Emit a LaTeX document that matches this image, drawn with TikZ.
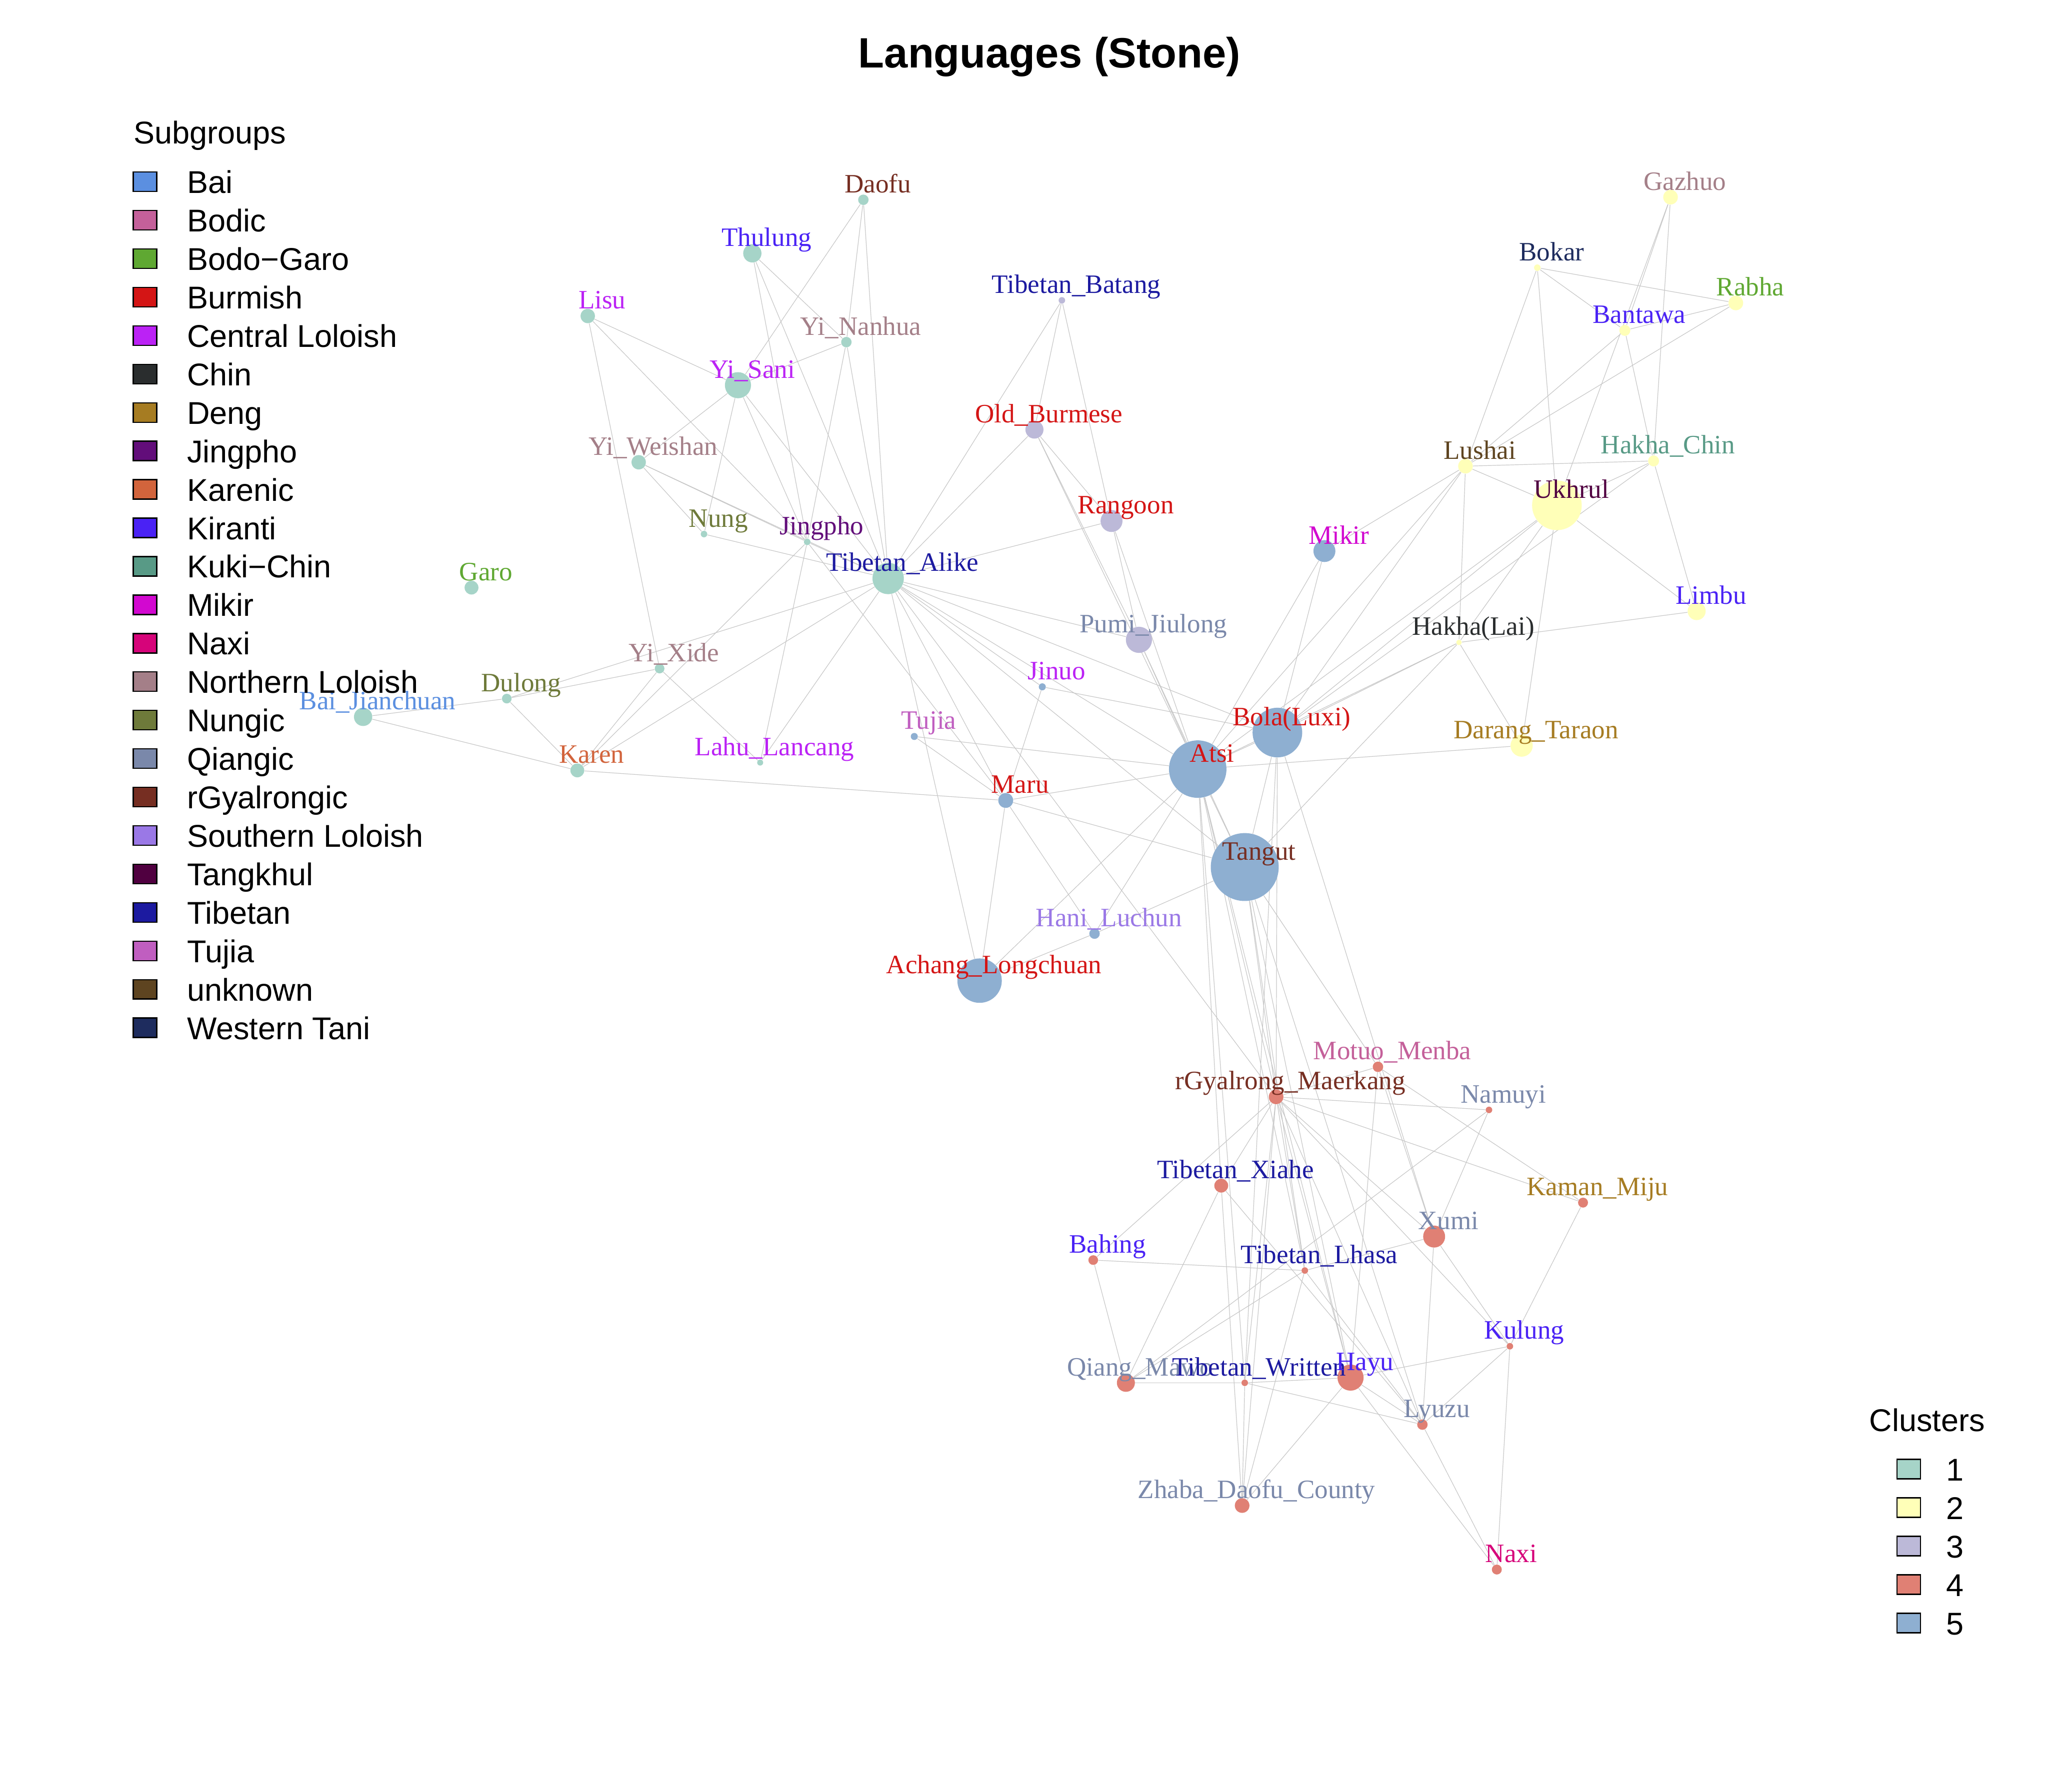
\documentclass[tikz,border=0pt]{standalone}
\usepackage{fontspec}
\setmainfont{Liberation Serif}
\newfontfamily\legfont{Liberation Sans}
\usetikzlibrary{backgrounds}

% cluster fills
\definecolor{cA}{HTML}{A6D4C8}
\definecolor{cB}{HTML}{FFFFB8}
\definecolor{cC}{HTML}{BCB9D8}
\definecolor{cD}{HTML}{E08074}
\definecolor{cE}{HTML}{8EAFD1}
% subgroup colours
\definecolor{sBai}{HTML}{5B8FE0}
\definecolor{sBodic}{HTML}{C4609A}
\definecolor{sBodoGaro}{HTML}{5FA832}
\definecolor{sBurmish}{HTML}{D41515}
\definecolor{sCentral}{HTML}{BB22F5}
\definecolor{sChin}{HTML}{2A2D2E}
\definecolor{sDeng}{HTML}{A67C22}
\definecolor{sJingpho}{HTML}{620D7A}
\definecolor{sKarenic}{HTML}{D2643C}
\definecolor{sKiranti}{HTML}{4A22F5}
\definecolor{sKukiChin}{HTML}{589A86}
\definecolor{sMikir}{HTML}{D208D0}
\definecolor{sNaxi}{HTML}{D6047A}
\definecolor{sNorthern}{HTML}{A47F88}
\definecolor{sNungic}{HTML}{6E7A3A}
\definecolor{sQiangic}{HTML}{7A88AA}
\definecolor{sRgyal}{HTML}{762E22}
\definecolor{sSouthern}{HTML}{9A78E6}
\definecolor{sTangkhul}{HTML}{500040}
\definecolor{sTibetan}{HTML}{1C1AA0}
\definecolor{sTujia}{HTML}{C05EC0}
\definecolor{sUnknown}{HTML}{5E4420}
\definecolor{sWTani}{HTML}{1E2C5E}

\begin{document}
\begin{tikzpicture}[x=0.03061cm,y=-0.03061cm,
  vtx/.style={circle,inner sep=0pt,minimum size=#1*1.742pt},
  lab/.style={font=\fontsize{17.7}{20}\selectfont,anchor=base,inner sep=0pt},
  edge/.style={draw=black!22,line width=0.4pt},
  key/.style={draw=black,line width=0.8pt,minimum width=15.7pt,minimum height=13pt,inner sep=0pt},
  leg/.style={font=\legfont\fontsize{21}{25}\selectfont,anchor=base west,inner sep=0pt}]
  \useasboundingbox (0,0) rectangle (1568,1372);

  \node[font=\legfont\bfseries\fontsize{28.3}{32}\selectfont,anchor=base,inner sep=0pt] (title) at (803.5,52) {Languages (Stone)};

  % vertices
  \foreach \n/\x/\y/\r/\c in {
    daofu/661/153/4/cA, thulung/576/194/7/cA, lisu/450/242/5.5/cA, yinanhua/648/262/4/cA,
    yisani/565/295/10/cA, yiweishan/489/354/5.5/cA, nung/539/409/2.5/cA, jingpho/618/415/2.5/cA,
    tibalike/680/443/12/cA, garo/361/450/5.3/cA, yixide/505/512/3.7/cA, dulong/388/535/3.7/cA,
    baijian/278/549/7/cA, karen/442/590/5.3/cA, lahu/582/584/2.3/cA,
    tujia/700/564/2.7/cE, maru/770/613/5.7/cE, jinuo/798/526/2.7/cE, atsi/917/589/22/cE,
    bola/978/561/19/cE, tangut/953/664/26/cE, mikir/1014/422/8.4/cE, achang/750/751/17/cE,
    hani/838/715/4/cE,
    tibbatang/813/230/2.5/cC, oldburmese/792/329/6.9/cC, rangoon/851/399/8.4/cC, pumi/872/490/10/cC,
    gazhuo/1279/151/5.6/cB, bokar/1177/205/2.5/cB, rabha/1329/232/5.6/cB, bantawa/1244/253/4.2/cB,
    lushai/1122/357/5.6/cB, hakhachin/1266/353/4.2/cB, ukhrul/1192/387/19/cB, limbu/1299/468/6.9/cB,
    hakhalai/1117/492/2.1/cB, darang/1165/571/8.5/cB,
    motuo/1055/817/4/cD, rgyal/977/840/5.6/cD, namuyi/1140/850/2.5/cD, tibxiahe/935/908/5.3/cD,
    kaman/1212/921/3.8/cD, xumi/1098/947/8.4/cD, bahing/837/965/3.7/cD, tiblhasa/999/973/2.5/cD,
    kulung/1156/1031/2.5/cD, qiang/862/1059/6.9/cD, tibwritten/953/1059/2.5/cD, hayu/1034/1055/10/cD,
    lyuzu/1089/1091/4/cD, zhaba/951/1153/5.6/cD, naxi/1146/1202/3.8/cD}
    \node[vtx=\r,fill=\c] (\n) at (\x,\y) {};

  % edges
  \begin{scope}[on background layer]
    \fill[white] (0,0) rectangle (1568,1372);
    \foreach \a/\b in {
      daofu/yisani, daofu/yinanhua, daofu/tibalike,
      thulung/yinanhua, thulung/jingpho, thulung/tibalike,
      lisu/yisani, lisu/jingpho, lisu/yixide,
      yisani/yinanhua, yisani/yiweishan, yisani/nung, yisani/jingpho, yisani/tibalike,
      yinanhua/jingpho, yinanhua/tibalike,
      yiweishan/nung, yiweishan/jingpho, yiweishan/tibalike,
      nung/tibalike, jingpho/tibalike, jingpho/lahu, jingpho/maru, jingpho/karen,
      yixide/dulong, yixide/karen, yixide/lahu,
      dulong/baijian, dulong/karen, dulong/tibalike,
      baijian/karen, karen/tibalike, karen/maru, lahu/tibalike,
      tibalike/rangoon, tibalike/oldburmese, tibalike/tibbatang, tibalike/pumi, tibalike/jinuo,
      tibalike/maru, tibalike/atsi, tibalike/bola, tibalike/tangut, tibalike/rgyal, tibalike/achang,
      tibbatang/oldburmese, tibbatang/rangoon, oldburmese/rangoon, oldburmese/pumi, oldburmese/atsi,
      rangoon/pumi, rangoon/atsi, pumi/atsi, pumi/tangut,
      tujia/atsi, tujia/maru, jinuo/maru, jinuo/bola, maru/atsi, maru/tangut, maru/achang, maru/hani,
      atsi/bola, atsi/tangut, atsi/achang, atsi/hani, atsi/mikir, atsi/darang, bola/tangut, bola/mikir,
      tangut/hani, hani/achang,
      gazhuo/ukhrul, gazhuo/bantawa, gazhuo/hakhachin, bokar/rabha, bokar/bantawa, bokar/lushai,
      bokar/ukhrul, bantawa/rabha, bantawa/lushai, bantawa/hakhachin, rabha/lushai,
      lushai/hakhachin, lushai/ukhrul, lushai/hakhalai, hakhachin/ukhrul, hakhachin/limbu,
      ukhrul/limbu, hakhalai/limbu, ukhrul/hakhalai, ukhrul/darang, hakhalai/darang,
      lushai/mikir, lushai/bola, lushai/atsi, ukhrul/bola, ukhrul/atsi, hakhalai/bola, hakhalai/atsi,
      hakhalai/tangut, hakhachin/bola,
      atsi/rgyal, atsi/tibxiahe, atsi/tiblhasa, atsi/hayu, atsi/tibwritten, bola/rgyal, bola/xumi,
      bola/tibwritten, tangut/rgyal, tangut/motuo, tangut/tiblhasa, tangut/hayu, tangut/lyuzu,
      rgyal/motuo, rgyal/namuyi, rgyal/kaman, rgyal/xumi, rgyal/kulung, rgyal/tibxiahe, rgyal/bahing,
      rgyal/tiblhasa, rgyal/hayu, rgyal/tibwritten, rgyal/zhaba, rgyal/lyuzu,
      motuo/kaman, motuo/xumi, motuo/hayu, namuyi/xumi, namuyi/qiang, kaman/kulung,
      xumi/tiblhasa, xumi/kulung, xumi/lyuzu, bahing/tiblhasa, bahing/qiang,
      tibxiahe/qiang, tibxiahe/zhaba, tibxiahe/lyuzu, tiblhasa/qiang, tiblhasa/zhaba, tiblhasa/lyuzu,
      tibwritten/qiang, tibwritten/hayu, tibwritten/lyuzu, tibwritten/zhaba,
      hayu/kulung, hayu/lyuzu, hayu/zhaba, hayu/naxi, lyuzu/naxi, kulung/lyuzu, kulung/naxi}
      \draw[edge] (\a) -- (\b);
  \end{scope}

  % vertex labels
  \foreach \n/\t/\c in {
    daofu/Daofu/sRgyal, thulung/Thulung/sKiranti, lisu/Lisu/sCentral, yinanhua/Yi\_Nanhua/sNorthern,
    yisani/Yi\_Sani/sCentral, yiweishan/Yi\_Weishan/sNorthern, nung/Nung/sNungic, jingpho/Jingpho/sJingpho,
    tibalike/Tibetan\_Alike/sTibetan, garo/Garo/sBodoGaro, yixide/Yi\_Xide/sNorthern, dulong/Dulong/sNungic,
    baijian/Bai\_Jianchuan/sBai, karen/Karen/sKarenic, lahu/Lahu\_Lancang/sCentral,
    tujia/Tujia/sTujia, maru/Maru/sBurmish, jinuo/Jinuo/sCentral, atsi/Atsi/sBurmish,
    bola/Bola(Luxi)/sBurmish, tangut/Tangut/sRgyal, mikir/Mikir/sMikir, achang/Achang\_Longchuan/sBurmish,
    hani/Hani\_Luchun/sSouthern,
    tibbatang/Tibetan\_Batang/sTibetan, oldburmese/Old\_Burmese/sBurmish, rangoon/Rangoon/sBurmish,
    pumi/Pumi\_Jiulong/sQiangic,
    gazhuo/Gazhuo/sNorthern, bokar/Bokar/sWTani, rabha/Rabha/sBodoGaro, bantawa/Bantawa/sKiranti,
    lushai/Lushai/sUnknown, hakhachin/Hakha\_Chin/sKukiChin, ukhrul/Ukhrul/sTangkhul, limbu/Limbu/sKiranti,
    hakhalai/Hakha(Lai)/sChin, darang/Darang\_Taraon/sDeng,
    motuo/Motuo\_Menba/sBodic, rgyal/rGyalrong\_Maerkang/sRgyal, namuyi/Namuyi/sQiangic,
    tibxiahe/Tibetan\_Xiahe/sTibetan, kaman/Kaman\_Miju/sDeng, xumi/Xumi/sQiangic, bahing/Bahing/sKiranti,
    tiblhasa/Tibetan\_Lhasa/sTibetan, kulung/Kulung/sKiranti, qiang/Qiang\_Mawo/sQiangic,
    tibwritten/Tibetan\_Written/sTibetan, hayu/Hayu/sKiranti, lyuzu/Lyuzu/sQiangic,
    zhaba/Zhaba\_Daofu\_County/sQiangic, naxi/Naxi/sNaxi}
    \node[lab,text=\c] (\n-t) at ([shift={(11,-5.5)}]\n.center) {\t};

  % subgroup legend
  \node[leg] (sghead) at (102,110) {Subgroups};
  \foreach \t/\c [count=\i from 0] in {Bai/sBai, Bodic/sBodic, Bodo−Garo/sBodoGaro, Burmish/sBurmish,
    Central Loloish/sCentral, Chin/sChin, Deng/sDeng, Jingpho/sJingpho, Karenic/sKarenic,
    Kiranti/sKiranti, Kuki−Chin/sKukiChin, Mikir/sMikir, Naxi/sNaxi, Northern Loloish/sNorthern,
    Nungic/sNungic, Qiangic/sQiangic, rGyalrongic/sRgyal, Southern Loloish/sSouthern,
    Tangkhul/sTangkhul, Tibetan/sTibetan, Tujia/sTujia, unknown/sUnknown, Western Tani/sWTani} {
    \node[key,fill=\c] (sg\i) at (111,{139.2+29.45*\i}) {};
    \node[leg] (sgt\i) at (143,{148+29.45*\i}) {\t};
  }

  % cluster legend
  \node[leg] (clhead) at (1431,1096) {Clusters};
  \foreach \c [count=\i] in {cA,cB,cC,cD,cE} {
    \node[key,fill=\c] (cl\i) at (1461.4,{1125+29.5*(\i-1)}) {};
    \node[leg] (clt\i) at (1490,{1134+29.5*(\i-1)}) {\i};
  }
\end{tikzpicture}
\end{document}
